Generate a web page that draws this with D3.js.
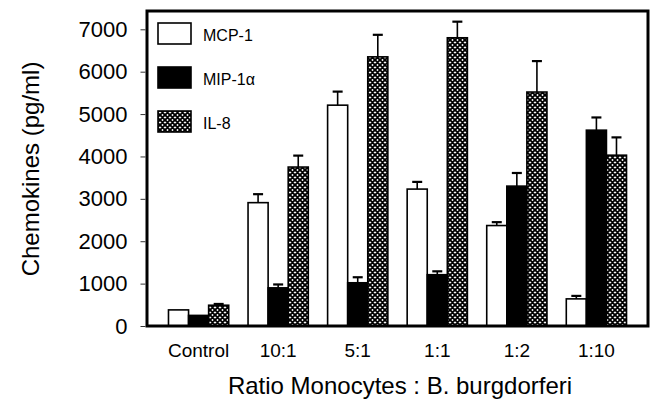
<!DOCTYPE html>
<html>
<head>
<meta charset="utf-8">
<script src="https://cdn.jsdelivr.net/npm/d3@7"></script>
<style>
  body { margin: 0; background: #fff; }
  text { font-family: "Liberation Sans", Arial, sans-serif; fill: #000; }
</style>
</head>
<body>
<svg id="chart" width="650" height="399"></svg>
<script>
// groups along the x axis
const groups = ["Control", "10:1", "5:1", "1:1", "1:2", "1:10"];
const seriesNames = ["MCP-1", "MIP-1\u03b1", "IL-8"];

// means (pg/ml)
const mcp1 = [380, 2910, 5210, 3230, 2370, 640];
const mip1a = [250, 900, 1020, 1210, 3300, 4620];
const il8 = [490, 3750, 6350, 6800, 5520, 4030];

// error bar heights (upper only)
const mcp1Err = [0, 200, 320, 170, 80, 70];
const mip1aErr = [0, 80, 130, 80, 310, 300];
const il8Err = [30, 270, 520, 380, 730, 420];

const yTicks = [0, 1000, 2000, 3000, 4000, 5000, 6000, 7000];

const svg = d3.select("#chart");
const mLeft = 147, mRight = 648, mTop = 11, mBottom = 326;

// cross-hatch pattern for IL-8
const defs = svg.append("defs");
const pat = defs.append("pattern")
  .attr("id", "hatch")
  .attr("patternUnits", "userSpaceOnUse")
  .attr("width", 5).attr("height", 5);
pat.append("rect").attr("width", 5).attr("height", 5).attr("fill", "#fff");
pat.append("path").attr("d", "M0,0L5,5M5,0L0,5M-1,4L1,6M4,-1L6,1M4,6L6,4M-1,1L1,-1")
  .attr("stroke", "#000").attr("stroke-width", 1.9);

const fills = ["#fff", "#000", "url(#hatch)"];

const x0 = d3.scaleBand().domain(groups).range([mLeft, mRight])
  .paddingInner(0.243).paddingOuter(0.27);
const x1 = d3.scaleBand().domain(d3.range(3)).range([0, x0.bandwidth()]);
const y = d3.scaleLinear().domain([0, 7000]).range([mBottom, 29.3]);

const rows = [];
groups.forEach((g, i) => {
  [mcp1, mip1a, il8].forEach((s, k) => {
    const err = [mcp1Err, mip1aErr, il8Err][k][i];
    rows.push({ g, k, v: s[i], err });
  });
});

const bars = svg.append("g");
bars.selectAll("rect").data(rows).join("rect")
  .attr("x", d => x0(d.g) + x1(d.k))
  .attr("y", d => y(d.v))
  .attr("width", x1.bandwidth())
  .attr("height", d => y(0) - y(d.v))
  .attr("fill", d => fills[d.k])
  .attr("stroke", "#000")
  .attr("stroke-width", 1.6);

const eb = svg.append("g").attr("stroke", "#000").attr("stroke-width", 1.6);
rows.filter(d => d.err > 0).forEach(d => {
  const cx = x0(d.g) + x1(d.k) + x1.bandwidth() / 2;
  eb.append("line").attr("x1", cx).attr("x2", cx)
    .attr("y1", y(d.v)).attr("y2", y(d.v + d.err));
  eb.append("line").attr("x1", cx - 5).attr("x2", cx + 5)
    .attr("y1", y(d.v + d.err)).attr("y2", y(d.v + d.err)).attr("stroke-width", 2.2);
});

// frame
svg.append("rect")
  .attr("x", mLeft).attr("y", mTop)
  .attr("width", mRight - mLeft).attr("height", mBottom - mTop)
  .attr("fill", "none").attr("stroke", "#000").attr("stroke-width", 3);

// y axis
const yAxis = svg.append("g")
  .attr("transform", `translate(${mLeft - 1.5},0)`)
  .call(d3.axisLeft(y).tickValues(yTicks).tickSize(5).tickPadding(13).tickFormat(d3.format("d")));
yAxis.select(".domain").remove();
yAxis.selectAll("line").attr("stroke", "#333");
yAxis.selectAll("text").style("font-size", "22px").style("font-family", "Liberation Sans, Arial, sans-serif");

// x labels
svg.append("g").selectAll("text").data(groups).join("text")
  .attr("x", d => x0(d) + x0.bandwidth() / 2)
  .attr("y", 357)
  .attr("text-anchor", "middle")
  .style("font-size", "19px")
  .text(d => d);

svg.append("text")
  .attr("x", 400).attr("y", 394)
  .attr("text-anchor", "middle")
  .style("font-size", "24px")
  .text("Ratio Monocytes : B. burgdorferi");

svg.append("text")
  .attr("transform", "translate(39,169) rotate(-90)")
  .attr("text-anchor", "middle")
  .style("font-size", "24px")
  .text("Chemokines (pg/ml)");

// legend
const legend = svg.append("g");
seriesNames.forEach((name, k) => {
  const ly = 23 + k * 44;
  legend.append("rect")
    .attr("x", 158).attr("y", ly).attr("width", 33).attr("height", 21)
    .attr("fill", fills[k]).attr("stroke", "#000").attr("stroke-width", 1.6);
  legend.append("text")
    .attr("x", 203).attr("y", ly + 18)
    .style("font-size", "16px")
    .text(name);
});
</script>
</body>
</html>
